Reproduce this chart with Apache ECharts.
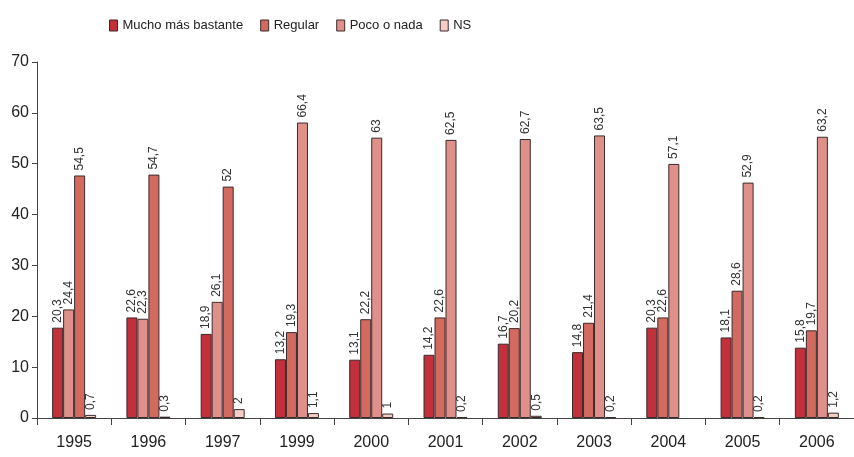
<!DOCTYPE html>
<html>
<head>
<meta charset="utf-8">
<script src="https://cdn.jsdelivr.net/npm/echarts@6/dist/echarts.min.js"></script>
<style>
html, body { margin: 0; padding: 0; background: #fff; }
#chart { width: 854px; height: 457px; }
</style>
</head>
<body>
<div id="chart"></div>
<script>
const years = ['1995', '1996', '1997', '1999', '2000', '2001', '2002', '2003', '2004', '2005', '2006'];
const mucho = [20.3, 22.6, 18.9, 13.2, 13.1, 14.2, 16.7, 14.8, 20.3, 18.1, 15.8];
const regular = [24.4, 22.3, 26.1, 19.3, 22.2, 22.6, 20.2, 21.4, 22.6, 28.6, 19.7];
const poco = [54.5, 54.7, 52, 66.4, 63, 62.5, 62.7, 63.5, 57.1, 52.9, 63.2];
const ns = [0.7, 0.3, 2, 1.1, 1, 0.2, 0.5, 0.2, null, 0.2, 1.2];
// the printed axis says 0-70 but the bars are drawn on a 0-80 scale
const yTicks = [0, 10, 20, 30, 40, 50, 60, 70];

const names = ['Mucho más bastante', 'Regular', 'Poco o nada', 'NS'];
const colors = ['#c1303b', '#d26a5f', '#e0908a', '#f4cec6'];

let chart = echarts.init(document.getElementById('chart'));

function makeSeries(i, data){
    return {
        name: names[i],
        type: 'bar',
        data: data,
        barWidth: 11,
        barGap: '0%',
        itemStyle: {
            // in the first three years the two middle colours are swapped in the original
            color: (i === 1 || i === 2) ? (p => p.dataIndex < 3 ? colors[3 - i] : colors[i]) : colors[i],
            borderColor: '#3a2b2b',
            borderWidth: 1
        },
        label: {
            show: true,
            position: 'top',
            rotate: 90,
            align: 'left',
            verticalAlign: 'middle',
            distance: 5,
            fontFamily: 'Liberation Sans, Arial',
            fontSize: 12,
            color: '#333',
            formatter: p => String(p.value).replace('.', ',')
        }
    };
}

let options = {
    animation: false,
    legend: {
        data: names.map((n, i) => ({ name: n, icon: 'rect', itemStyle: { color: colors[i], borderColor: '#3a2b2b', borderWidth: 1 } })),
        left: 104,
        top: 14,
        itemWidth: 8,
        itemHeight: 11,
        itemGap: 17,
        textStyle: {
            fontFamily: 'Liberation Sans, Arial',
            fontSize: 13,
            color: '#222'
        }
    },
    grid: {
        left: 37,
        top: 62,
        bottom: 39,
        width: 827,
        containLabel: false
    },
    xAxis: {
        type: 'category',
        data: years,
        axisLine: { lineStyle: { color: '#444', width: 1 } },
        axisTick: { show: true, length: 7, lineStyle: { color: '#444' } },
        axisLabel: {
            margin: 17,
            fontFamily: 'Liberation Sans, Arial',
            fontSize: 16,
            color: '#222'
        }
    },
    yAxis: {
        type: 'value',
        min: 0,
        max: 80,
        interval: 80 / 7,
        axisLine: { show: true, lineStyle: { color: '#444', width: 1 } },
        axisTick: { show: true, length: 5, lineStyle: { color: '#444' } },
        splitLine: { show: false },
        axisLabel: {
            margin: 8,
            fontFamily: 'Liberation Sans, Arial',
            fontSize: 16,
            color: '#222',
            formatter: v => yTicks[Math.round(v * 7 / 80)]
        }
    },
    series: [
        makeSeries(0, mucho),
        makeSeries(1, regular),
        makeSeries(2, poco),
        makeSeries(3, ns)
    ]
};
chart.setOption(options);
</script>
</body>
</html>
